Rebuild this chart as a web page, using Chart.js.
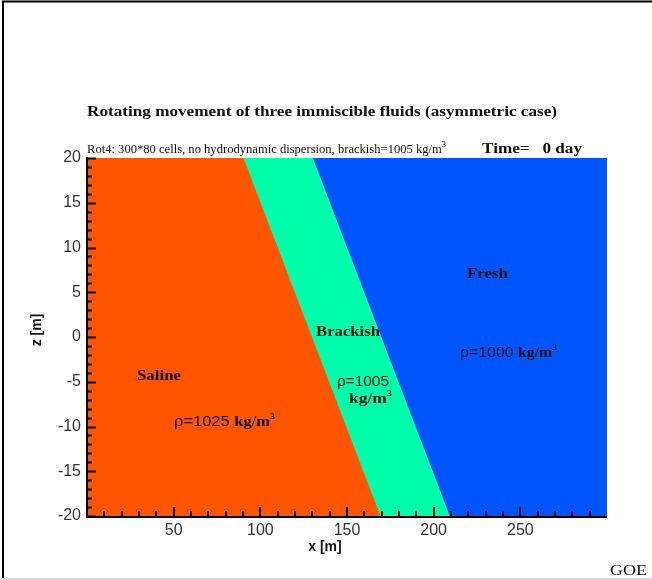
<!DOCTYPE html>
<html>
<head>
<meta charset="utf-8">
<script src="https://cdn.jsdelivr.net/npm/chart.js@4"></script>
<style>
  html, body { margin: 0; padding: 0; background: #fff; }
  canvas { display: block; }
</style>
</head>
<body>
<canvas id="c" width="652" height="580"></canvas>
<script>
// ---- data ----
const xRange = [0, 300];            // x [m]
const zRange = [-20, 20];           // z [m]
const zLevels = [20, -20];          // top and bottom of the domain
const salineBrackishX = [90, 169];  // interface x at z=20 and z=-20
const brackishFreshX = [130, 209];  // interface x at z=20 and z=-20
const fluidNames = ['Saline', 'Brackish', 'Fresh'];
const fluidDensities = [1025, 1005, 1000];
const fluidColors = ['#ff5500', '#00ffaa', '#0055ff'];
const xTickLabels = ['50', '100', '150', '200', '250'];
const zTickLabels = ['-20', '-15', '-10', '-5', '0', '5', '10', '15', '20'];
const xMinorStep = 10, xMajorStep = 50;
const zMinorStep = 1, zMajorStep = 5;

const zTop = zLevels[0], zBot = zLevels[1];
const polys = [
  [{x: xRange[0], y: zTop}, {x: salineBrackishX[0], y: zTop}, {x: salineBrackishX[1], y: zBot}, {x: xRange[0], y: zBot}],
  [{x: salineBrackishX[0], y: zTop}, {x: brackishFreshX[0], y: zTop}, {x: brackishFreshX[1], y: zBot}, {x: salineBrackishX[1], y: zBot}],
  [{x: brackishFreshX[0], y: zTop}, {x: xRange[1], y: zTop}, {x: xRange[1], y: zBot}, {x: brackishFreshX[1], y: zBot}]
];

const SERIF = '"Liberation Serif", "DejaVu Serif", serif';
const SANS = '"Liberation Sans", Arial, sans-serif';

function drawRuns(ctx, runs, left, baseline, targetW) {
  let total = 0;
  runs.forEach(r => { ctx.font = r.font; r.w = ctx.measureText(r.t).width; total += r.w; });
  const s = targetW ? targetW / total : 1;
  ctx.save();
  ctx.translate(left, baseline);
  ctx.scale(s, 1);
  ctx.textBaseline = 'alphabetic';
  ctx.textAlign = 'left';
  let x = 0;
  runs.forEach(r => {
    ctx.font = r.font;
    ctx.fillStyle = r.color || '#111';
    ctx.fillText(r.t, x, r.rise ? -r.rise : 0);
    x += r.w;
  });
  ctx.restore();
}

const decor = {
  id: 'decor',
  beforeDraw(chart) {
    const ctx = chart.ctx;
    ctx.save();
    ctx.fillStyle = '#fff';
    ctx.fillRect(0, 0, chart.width, chart.height);
    ctx.strokeStyle = '#000';
    ctx.lineWidth = 2;
    ctx.beginPath();
    ctx.moveTo(3, 580); ctx.lineTo(3, 1.5); ctx.lineTo(652, 1.5);
    ctx.stroke();
    ctx.strokeStyle = '#d8d8d8';
    ctx.lineWidth = 2;
    ctx.beginPath(); ctx.moveTo(0, 579); ctx.lineTo(652, 579); ctx.stroke();
    ctx.restore();
  },
  afterDatasetsDraw(chart) {
    const ctx = chart.ctx;
    const xs = chart.scales.x, ys = chart.scales.y;
    const a = chart.chartArea;
    ctx.save();
    ctx.strokeStyle = '#000';
    ctx.lineWidth = 2;
    ctx.beginPath();
    for (let v = xRange[0] + xMinorStep; v < xRange[1]; v += xMinorStep) {
      const px = Math.round(xs.getPixelForValue(v));
      const len = (v % xMajorStep === 0) ? 9 : 5;
      ctx.moveTo(px, a.bottom); ctx.lineTo(px, a.bottom - len);
    }
    for (let v = zRange[0]; v <= zRange[1]; v += zMinorStep) {
      const py = Math.round(ys.getPixelForValue(v)) + 0.5;
      const len = (v % zMajorStep === 0) ? 9 : 5;
      ctx.moveTo(a.left, py); ctx.lineTo(a.left + len, py);
    }
    ctx.stroke();
    ctx.beginPath();
    ctx.moveTo(a.left, a.top - 1); ctx.lineTo(a.left, a.bottom + 1); ctx.lineTo(a.right, a.bottom + 1);
    ctx.stroke();
    ctx.restore();

    const b = 'bold 15px ' + SERIF;
    const r = '15px ' + SANS;
    const sup = 'bold 9px ' + SERIF;
    drawRuns(ctx, [{t: fluidNames[0], font: b}], 137, 380, 44);
    drawRuns(ctx, [{t: 'ρ=' + fluidDensities[0] + ' ', font: r}, {t: 'kg/m', font: b}, {t: '3', font: sup, rise: 7}], 174, 426, 101);
    drawRuns(ctx, [{t: fluidNames[1], font: b}], 316, 336, 64);
    drawRuns(ctx, [{t: 'ρ=' + fluidDensities[1], font: r}], 337, 386, 52);
    drawRuns(ctx, [{t: 'kg/m', font: b}, {t: '3', font: sup, rise: 7}], 349, 403, 43);
    drawRuns(ctx, [{t: fluidNames[2], font: b}], 467, 278, 41);
    drawRuns(ctx, [{t: 'ρ=' + fluidDensities[2] + ' ', font: r}, {t: 'kg/m', font: b}, {t: '3', font: sup, rise: 7}], 460, 357, 97);
  },
  afterDraw(chart) {
    const ctx = chart.ctx;
    drawRuns(ctx, [{t: 'Rotating movement of three immiscible fluids (asymmetric case)', font: 'bold 15px ' + SERIF}], 87, 116, 470);
    drawRuns(ctx, [{t: 'Rot4: 300*80 cells, no hydrodynamic dispersion, brackish=1005 kg/m', font: '12px ' + SERIF},
                   {t: '3', font: '8px ' + SERIF, rise: 6}], 87, 153, 359);
    drawRuns(ctx, [{t: 'Time=   0 day', font: 'bold 15px ' + SERIF}], 482, 153, 100);
    drawRuns(ctx, [{t: 'GOE', font: '15px ' + SERIF}], 610, 575, 37);
    // axis titles
    ctx.save();
    ctx.fillStyle = '#111';
    ctx.font = 'bold 14px ' + SANS;
    ctx.textAlign = 'center';
    ctx.textBaseline = 'middle';
    ctx.fillText('x [m]', 325, 547);
    ctx.translate(37, 330);
    ctx.rotate(-Math.PI / 2);
    ctx.fillText('z [m]', 0, 0);
    ctx.restore();
  }
};

new Chart(document.getElementById('c'), {
  type: 'scatter',
  data: {
    datasets: polys.map((p, i) => ({
      label: fluidNames[i],
      data: p,
      showLine: true,
      fill: 'shape',
      backgroundColor: fluidColors[i],
      borderColor: fluidColors[i],
      borderWidth: 1,
      pointRadius: 0,
      tension: 0
    }))
  },
  options: {
    responsive: false,
    animation: false,
    devicePixelRatio: 1,
    layout: { padding: { left: 0, top: 158, right: 45, bottom: 0 } },
    plugins: { legend: { display: false }, tooltip: { enabled: false }, title: { display: false } },
    scales: {
      x: {
        type: 'linear', min: xRange[0], max: xRange[1],
        grid: { display: false, drawTicks: false },
        border: { display: false },
        ticks: {
          stepSize: xMajorStep, padding: 5, color: '#333',
          font: { family: SANS, size: 16 },
          callback: (v) => xTickLabels.includes(String(v)) ? String(v) : ''
        },
        title: { display: false },
        afterFit: (s) => { s.height = 64; }
      },
      y: {
        type: 'linear', min: zRange[0], max: zRange[1],
        grid: { display: false, drawTicks: false },
        border: { display: false },
        ticks: {
          stepSize: zMajorStep, padding: 6, color: '#333',
          font: { family: SANS, size: 16 },
          callback: (v) => zTickLabels.includes(String(v)) ? String(v) : ''
        },
        title: { display: false },
        afterFit: (s) => { s.width = 87; }
      }
    }
  },
  plugins: [decor]
});
</script>
</body>
</html>
